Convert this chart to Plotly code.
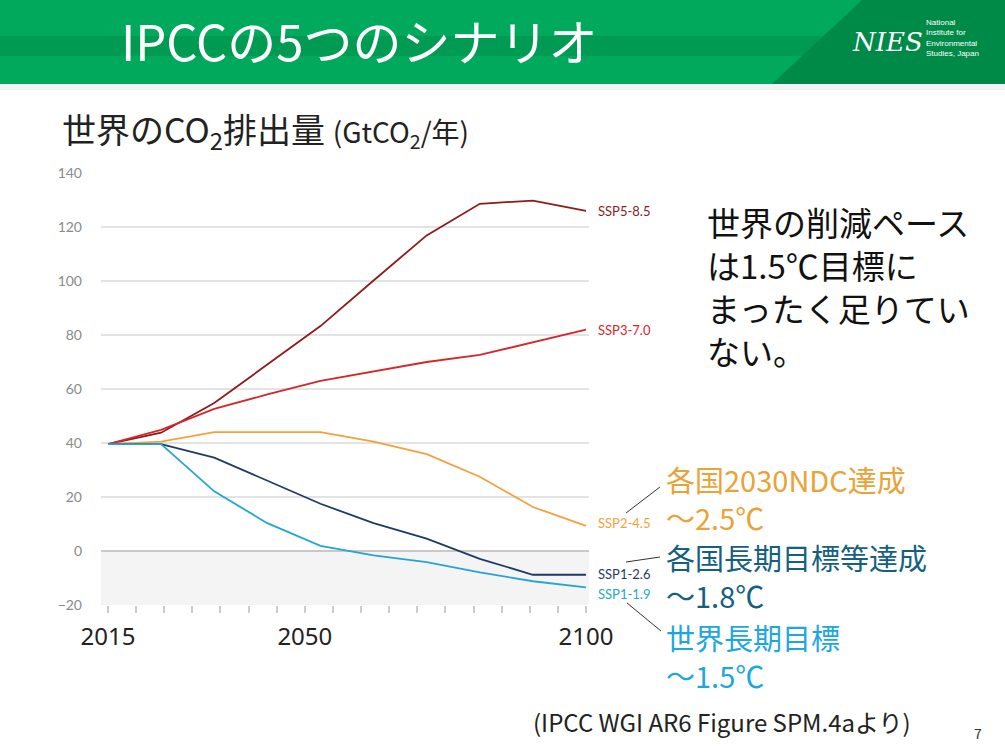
import plotly.graph_objects as go

# data: emission pathways (GtCO2/yr), points evenly spaced as in the source figure
years = [2015, 2020, 2030, 2040, 2050, 2060, 2070, 2080, 2090, 2100]
ssp585 = [39.6, 43.8, 54.8, 68.9, 83.3, 100.2, 116.9, 128.6, 129.8, 126.0]
ssp370 = [39.6, 44.9, 52.6, 58.0, 63.0, 66.5, 70.0, 72.6, 77.3, 82.0]
ssp245 = [39.6, 40.5, 44.0, 44.0, 44.0, 40.5, 35.9, 27.5, 16.3, 9.3]
ssp126 = [39.6, 39.6, 34.6, 25.9, 17.5, 10.3, 4.6, -2.9, -8.8, -8.8]
ssp119 = [39.6, 39.6, 22.1, 10.3, 1.9, -1.6, -4.1, -7.9, -11.2, -13.5]

names = ["SSP5-8.5", "SSP3-7.0", "SSP2-4.5", "SSP1-2.6", "SSP1-1.9"]
colors = ["#8e1b1b", "#d6262a", "#f2a23c", "#1e3a66", "#23a6d2"]
series = [ssp585, ssp370, ssp245, ssp126, ssp119]
label_shift = [0, 0, 3, 1, -7]

ytick_vals = [-20, 0, 20, 40, 60, 80, 100, 120, 140]
xtick_labels = [2015, 2050, 2100]

# plot area in pixels
L, R, T, B = 101, 589, 173, 605


def px(x):
    return (x - L) / (R - L)


def py(y):
    return (B - y) / (B - T)


fig = go.Figure()

for name, col, vals in zip(names, colors, series):
    fig.add_trace(go.Scatter(
        x=[str(y) for y in years], y=vals, mode="lines",
        line=dict(color=col, width=1.8), name=name,
        showlegend=False, hoverinfo="skip", xaxis="x", yaxis="y"
    ))

# invisible trace so the tick axis gets drawn
fig.add_trace(go.Scatter(x=[2015, 2100], y=[None, None], xaxis="x2", yaxis="y",
                         showlegend=False, hoverinfo="skip"))

shapes = []
# header
shapes.append(dict(type="rect", xref="paper", yref="paper", x0=px(0), x1=px(1005),
                   y0=py(84), y1=py(0), fillcolor="#00a95c", line_width=0, layer="below"))
shapes.append(dict(type="rect", xref="paper", yref="paper", x0=px(0), x1=px(1005),
                   y0=py(56), y1=py(36), fillcolor="#009a53", line_width=0, layer="below"))
shapes.append(dict(type="path", xref="paper", yref="paper",
                   path="M %f %f L %f %f L %f %f L %f %f Z" % (
                       px(862), py(0), px(1005), py(0), px(1005), py(84), px(772), py(84)),
                   fillcolor="#008a47", line_width=0, layer="below"))
shapes.append(dict(type="rect", xref="paper", yref="paper", x0=px(0), x1=px(1005),
                   y0=py(90), y1=py(84), fillcolor="#f3f3f3", line_width=0, layer="below"))
# negative region shading
shapes.append(dict(type="rect", xref="paper", yref="y", x0=0, x1=1, y0=-20, y1=0,
                   fillcolor="#f4f4f4", line_width=0, layer="below"))
# connector lines
for (x0, y0, x1, y1) in [(626, 513, 660, 487), (626, 562, 660, 557), (627, 603, 661, 631)]:
    shapes.append(dict(type="line", xref="paper", yref="paper", x0=px(x0), y0=py(y0),
                       x1=px(x1), y1=py(y1), line=dict(color="#333333", width=1)))

ann = []
for name, col, vals, dy in zip(names, colors, series, label_shift):
    ann.append(dict(x=1, xref="paper", y=vals[-1], yref="y", text=name, showarrow=False,
                    xanchor="left", yanchor="middle", xshift=7, yshift=dy,
                    font=dict(family="Lato", size=13, color=col)))


def txt(x, y, s, size, color, family="Noto Sans CJK JP", anchor="left", yanchor="middle"):
    ann.append(dict(x=px(x), y=py(y), xref="paper", yref="paper", text=s, showarrow=False,
                    xanchor=anchor, yanchor=yanchor, align="left",
                    font=dict(family=family, size=size, color=color)))


txt(119, 40, "IPCCの5つのシナリオ", 49, "white")
txt(850, 42, "<i>NIES</i>", 26, "white", family="DejaVu Serif")
txt(924, 38, "National<br>Institute for<br>Environmental<br>Studies, Japan", 8, "white",
    family="Liberation Sans")

txt(60, 130, "世界のCO<sub>2</sub>排出量 <span style='font-size:28px'>(GtCO<sub>2</sub>/年)</span>",
    34, "#222222")

txt(705, 286, "世界の削減ペース<br>は1.5℃目標に<br>まったく足りてい<br>ない。", 33, "#111111")

txt(664, 498, "各国2030NDC達成<br>～2.5℃", 29, "#e9a336")
txt(664, 576, "各国長期目標等達成<br>～1.8℃", 29, "#15607f")
txt(664, 656, "世界長期目標<br>～1.5℃", 29, "#1da7df")

txt(531, 721, "(IPCC WGI AR6 Figure SPM.4aより)", 24, "#222222")
txt(978, 733, "7", 14, "#333333", anchor="center")

fig.update_layout(
    width=1005, height=754,
    margin=dict(l=L, r=1005 - R, t=T, b=754 - B),
    paper_bgcolor="white", plot_bgcolor="white",
    shapes=shapes, annotations=ann,
    xaxis=dict(type="category", range=[-0.1318, 9.056], visible=False),
    xaxis2=dict(overlaying="x", anchor="y", side="bottom", range=[2013.755, 2100.53],
                showgrid=False, zeroline=False, showline=False,
                tickvals=xtick_labels, ticktext=[str(v) for v in xtick_labels],
                ticks="outside", ticklen=7, tickwidth=1.5, tickcolor="#cccccc",
                ticklabelstandoff=3,
                minor=dict(tick0=2015, dtick=5, ticks="outside", ticklen=7,
                           tickwidth=1.5, tickcolor="#cccccc", showgrid=False),
                tickfont=dict(family="Noto Sans", size=24, color="#222222")),
    yaxis=dict(range=[-20, 140], tickvals=ytick_vals, showgrid=True, gridcolor="#e3e3e3",
               gridwidth=1.5, zeroline=True, zerolinecolor="#c9c9c9", zerolinewidth=2,
               ticks="", ticklabelstandoff=18,
               tickfont=dict(family="Lato", size=14, color="#8a8a8a")),
)

fig.write_html("out.html", config={"displayModeBar": False},
               post_script="document.body.style.margin='0';document.body.style.overflow='hidden';")
